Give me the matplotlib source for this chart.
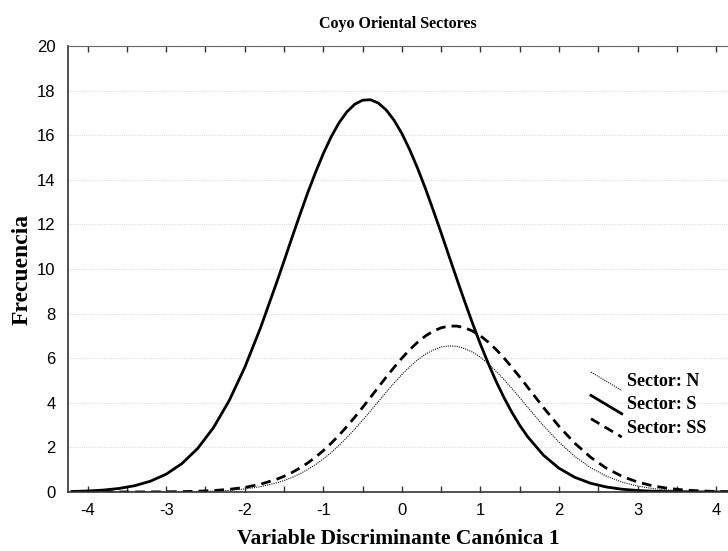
import matplotlib
matplotlib.use("Agg")
import matplotlib.pyplot as plt
from matplotlib.lines import Line2D
from matplotlib.legend_handler import HandlerLine2D
import numpy as np

plt.rcParams['axes.unicode_minus'] = False

# valores (paso 0.2 en las colas, 0.1 en el centro)
x = [-4.2, -4.0, -3.8, -3.6, -3.4, -3.2, -3.0, -2.8, -2.6, -2.4, -2.2, -2.0, -1.8, -1.6,
     -1.5, -1.4, -1.3, -1.2, -1.1, -1.0, -0.9, -0.8, -0.7, -0.6, -0.5, -0.4, -0.3, -0.2, -0.1,
     0.0, 0.1, 0.2, 0.3, 0.4, 0.5, 0.6, 0.7, 0.8, 0.9, 1.0, 1.1, 1.2, 1.3, 1.4, 1.5,
     1.6, 1.8, 2.0, 2.2, 2.4, 2.6, 2.8, 3.0, 3.2, 3.4, 3.6, 3.8, 4.0, 4.2]

sector_n = [0.0, 0.0, 0.0001, 0.0003, 0.0007, 0.0017, 0.004, 0.009, 0.019, 0.038, 0.073, 0.135, 0.238, 0.403,
            0.515, 0.651, 0.814, 1.005, 1.228, 1.484, 1.772, 2.093, 2.444, 2.822, 3.221, 3.636, 4.057, 4.477, 4.885,
            5.27, 5.62, 5.93, 6.18, 6.37, 6.50, 6.55, 6.53, 6.43, 6.27, 6.04, 5.75, 5.41, 5.04, 4.64, 4.23,
            3.80, 2.98, 2.23, 1.595, 1.091, 0.713, 0.445, 0.266, 0.151, 0.083, 0.043, 0.021, 0.010, 0.005]

sector_s = [0.023, 0.045, 0.086, 0.159, 0.283, 0.486, 0.80, 1.275, 1.952, 2.877, 4.087, 5.59, 7.36, 9.34,
            10.36, 11.40, 12.42, 13.41, 14.33, 15.18, 15.93, 16.56, 17.05, 17.39, 17.57, 17.59, 17.44, 17.13, 16.67,
            16.07, 15.34, 14.51, 13.60, 12.62, 11.61, 10.57, 9.54, 8.53, 7.55, 6.62, 5.755, 4.95, 4.224, 3.57, 2.987,
            2.48, 1.654, 1.064, 0.659, 0.393, 0.226, 0.125, 0.067, 0.034, 0.017, 0.008, 0.004, 0.002, 0.001]

sector_ss = [0.0, 0.0001, 0.0003, 0.0007, 0.0017, 0.0039, 0.0083, 0.017, 0.034, 0.065, 0.118, 0.207, 0.349, 0.563,
             0.705, 0.873, 1.071, 1.300, 1.562, 1.858, 2.187, 2.549, 2.941, 3.357, 3.794, 4.245, 4.701, 5.153, 5.59,
             6.005, 6.385, 6.719, 6.998, 7.216, 7.365, 7.44, 7.44, 7.365, 7.216, 6.998, 6.719, 6.385, 6.005, 5.591, 5.153,
             4.701, 3.794, 2.941, 2.187, 1.562, 1.071, 0.705, 0.445, 0.270, 0.157, 0.088, 0.047, 0.024, 0.012]


class HandlerDiagonal(HandlerLine2D):
    # linea de leyenda inclinada, como en el original
    def create_artists(self, legend, orig_handle, xdescent, ydescent,
                       width, height, fontsize, trans):
        line = Line2D([-xdescent, width - xdescent],
                      [height * 1.1 - ydescent, -height * 0.35 - ydescent])
        self.update_prop(line, orig_handle, legend)
        line.set_transform(trans)
        return [line]


fig = plt.figure(figsize=(7.28, 5.51), dpi=100)
ax = fig.add_axes([68 / 728, 1 - 492 / 551, 1 - 68 / 728, (492 - 46) / 551])

l_n, = ax.plot(x, sector_n, color='#111111', lw=0.8, linestyle=(0, (1, 1)), label='Sector: N')
l_s, = ax.plot(x, sector_s, color='black', lw=2.0, solid_joinstyle='round', label='Sector: S')
l_ss, = ax.plot(x, sector_ss, color='black', lw=2.0, linestyle=(0, (3.5, 2.2)), label='Sector: SS')

ax.set_xlim(-4.25, 4.15)
ax.set_ylim(0, 20)
ax.set_xticks(np.arange(-4, 5, 1))
ax.set_xticks(np.arange(-4, 4.5, 0.5), minor=True)
ax.set_yticks(np.arange(0, 22, 2))
ax.tick_params(axis='x', which='both', direction='in', top=True, length=4, width=1, color='#333333')
ax.tick_params(axis='x', which='major', pad=8)
ax.tick_params(axis='y', length=0, pad=9)
for lab in ax.get_xticklabels() + ax.get_yticklabels():
    lab.set_family('Liberation Sans')
    lab.set_fontsize(12)

ax.grid(axis='y', color='#dddddd', linestyle=(0, (1, 1)), lw=0.8)
ax.set_axisbelow(True)
ax.spines['right'].set_visible(False)
ax.spines['left'].set_color('#333333')
ax.spines['bottom'].set_color('#333333')
ax.spines['top'].set_color('#666666')
ax.spines['left'].set_linewidth(1.2)
ax.spines['bottom'].set_linewidth(1.2)

ax.set_title('Coyo Oriental Sectores', family='Liberation Serif', fontweight='bold', fontsize=11.5, pad=13)
ax.set_xlabel('Variable Discriminante Canónica 1', family='Liberation Serif', fontweight='bold', fontsize=15.5, labelpad=8)
ax.set_ylabel('Frecuencia', family='Liberation Serif', fontweight='bold', fontsize=17, labelpad=3)

leg = ax.legend(handles=[l_n, l_s, l_ss], loc='upper left', bbox_to_anchor=(591 / 728, 1 - 373 / 551),
                bbox_transform=fig.transFigure, frameon=False, handlelength=1.7, handletextpad=0.3,
                labelspacing=0.35, borderpad=0, borderaxespad=0,
                handler_map={Line2D: HandlerDiagonal()},
                prop={'family': 'Liberation Serif', 'weight': 'bold', 'size': 13})

fig.savefig('out.png', dpi=100)
